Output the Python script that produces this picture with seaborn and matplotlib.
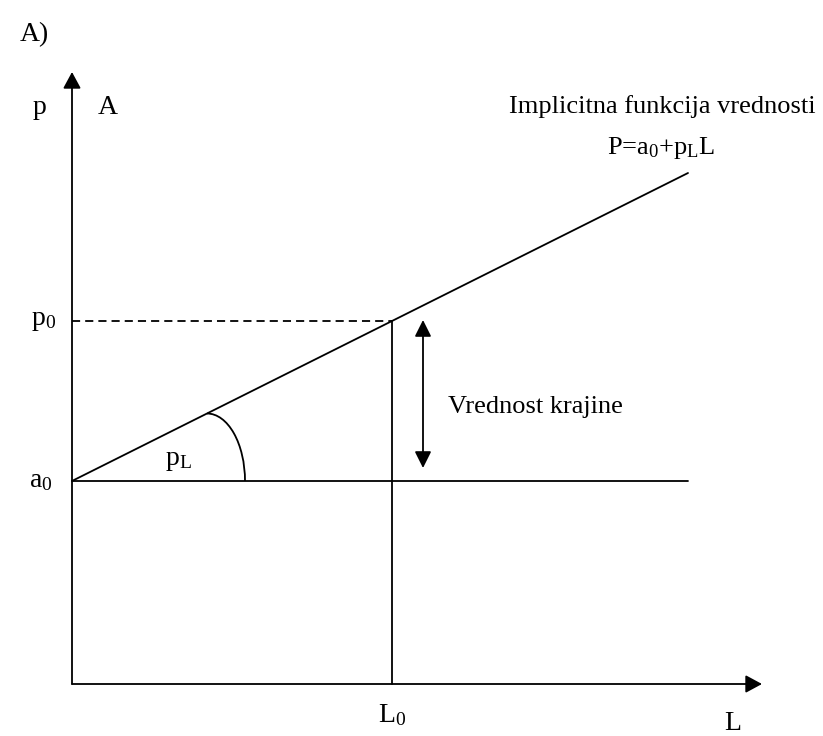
import numpy as np
import pandas as pd
import matplotlib
matplotlib.use("Agg")
import matplotlib.pyplot as plt
from matplotlib.patches import Arc, FancyArrowPatch
import seaborn as sns

# ---- data (model units) ----
a0 = 2.03          # intercept
pL = 0.5           # slope (implicit price)
L0 = 3.2           # chosen L
L_end = 6.16       # end of drawn value line
x_axis_end = 6.90
y_axis_end = 6.12
labels_axes = ["p", "A", "L"]

p0 = a0 + pL * L0

sns.set_theme(style="white")
plt.rcParams['font.family'] = ['Liberation Serif', 'DejaVu Serif']
plt.rcParams['mathtext.fontset'] = 'custom'
plt.rcParams['mathtext.rm'] = 'Liberation Serif'
plt.rcParams['mathtext.it'] = 'Liberation Serif:italic'
plt.rcParams['text.color'] = 'black'

fig = plt.figure(figsize=(8.23, 7.36), dpi=100)
ax = fig.add_axes([0, 0, 1, 1])
ax.set_xlim(-0.72, 7.51)
ax.set_ylim(-0.52, 6.84)
ax.axis("off")

lw = 1.3
# value line
df = pd.DataFrame({"L": [0, L_end], "P": [a0, a0 + pL * L_end]})
sns.lineplot(data=df, x="L", y="P", ax=ax, color="black", lw=lw)
# horizontal a0 line
df2 = pd.DataFrame({"L": [0, L_end], "P": [a0, a0]})
sns.lineplot(data=df2, x="L", y="P", ax=ax, color="black", lw=lw)
# vertical L0
ax.plot([L0, L0], [0, p0], color="black", lw=lw)
# dashed p0
ax.plot([0, L0], [p0, p0], color="black", lw=lw, linestyle=(0, (4.5, 2.8)))

# axes arrows
ax_style = "-|>,head_length=0.5,head_width=0.27"
for start, end in [((0, 0), (0, y_axis_end)), ((0, 0), (x_axis_end, 0))]:
    ax.add_patch(FancyArrowPatch(start, end, arrowstyle=ax_style, mutation_scale=20,
                                 color="black", lw=lw, shrinkA=0, shrinkB=0))

# double arrow (value of landscape)
ax.add_patch(FancyArrowPatch((3.51, p0 + 0.01), (3.51, a0 + 0.13),
                             arrowstyle="<|-|>,head_length=0.5,head_width=0.25",
                             mutation_scale=20, color="black", lw=lw,
                             shrinkA=0, shrinkB=0))

# angle arc (quarter ellipse)
xa = 1.35
ax.add_patch(Arc((xa, a0), 2 * 0.38, 2 * pL * xa, theta1=0, theta2=90,
                 color="black", lw=lw))

fs = 20
kw = dict(color="black", ha="center", va="center")
ax.text(-0.38, 6.49, "A)", fontsize=fs, **kw)
ax.text(-0.32, 5.76, labels_axes[0], fontsize=fs, **kw)
ax.text(0.36, 5.76, labels_axes[1], fontsize=fs, **kw)
ax.text(5.905, 5.77, "Implicitna funkcija vrednosti", fontsize=19, **kw)
ax.text(5.89, 5.36, r"P=a$_{0}$+p$_{\mathrm{L}}$L", fontsize=19, **kw)
ax.text(-0.28, p0, r"p$_{0}$", fontsize=fs, **kw)
ax.text(-0.31, a0, r"a$_{0}$", fontsize=fs, **kw)
ax.text(1.06, a0 + 0.2, r"p$_{\mathrm{L}}$", fontsize=fs, **kw)
ax.text(3.76, 2.77, "Vrednost krajine", fontsize=19, color="black", ha="left", va="center")
ax.text(L0, -0.31, r"L$_{0}$", fontsize=fs, **kw)
ax.text(6.61, -0.39, labels_axes[2], fontsize=fs, **kw)

fig.savefig("out.png", dpi=100, facecolor="white")
